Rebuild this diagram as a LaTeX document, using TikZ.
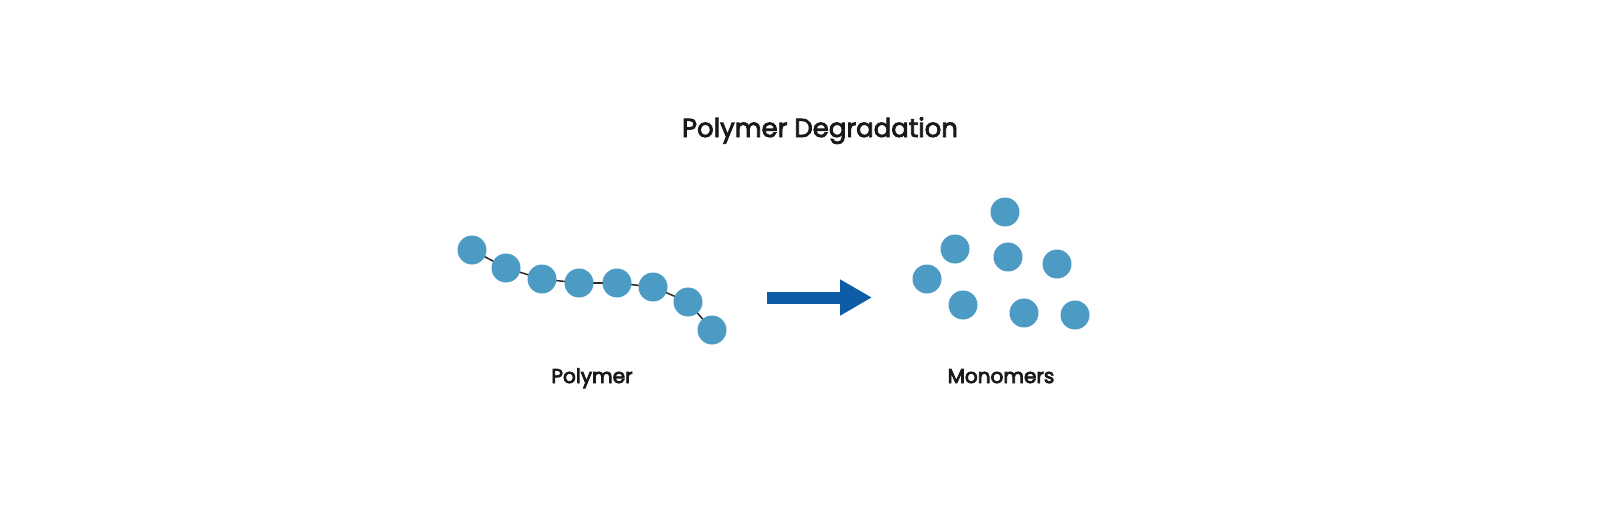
\documentclass[tikz,border=0pt]{standalone}
\usepackage{fontspec}
\setmainfont{Poppins}
\usepackage{tikz}
\usetikzlibrary{arrows.meta, positioning}
\definecolor{mybead}{RGB}{75,155,197}
\definecolor{myblue}{RGB}{14,92,166}
\definecolor{mydark}{RGB}{40,40,40}
% regular weight, outlined a little to get a medium stroke
\newcommand\medweight[1]{\special{pdf:literal direct 0.45 w 2 Tr}#1\special{pdf:literal direct 0 Tr}}
\tikzset{
  bead/.style={circle, fill=mybead, draw=none, minimum size=0.58cm, inner sep=0pt},
  bond/.style={line width=0.85pt, color=mydark},
  label/.style={font=\fontsize{11.4}{14}\selectfont, anchor=base, text=black!90},
  bigarrow/.style={line width=0.24cm, color=myblue,
    -{Triangle[length=0.64cm, width=0.68cm]}}
}

\begin{document}
\begin{tikzpicture}[x=0.02cm, y=-0.02cm]
  \useasboundingbox (0,0) rectangle (1600,521);

  % Title
  \node[font=\fontsize{14.8}{18}\selectfont, anchor=base, text=black!90] (title) at (820,137) {\medweight{Polymer Degradation}};

  % Polymer chain, bonds first so the beads sit on top
  \foreach \n/\x/\y in {1/472/250, 2/506/268, 3/542/279, 4/579/283,
                        5/617/283, 6/653/287, 7/688/302, 8/712/330}
    \coordinate (c\n) at (\x,\y);
  \foreach \a/\b in {1/2, 2/3, 3/4, 4/5, 5/6, 6/7, 7/8}
    \draw[bond] (c\a) -- (c\b);
  \foreach \n in {1,...,8}
    \node[bead] (p\n) at (c\n) {};
  \node[label] (poly_lbl) at (592,383) {\medweight{Polymer}};

  % Degradation arrow
  \coordinate (arr_start) at (767,297.5);
  \coordinate (arr_end) at (872,297.5);
  \draw[bigarrow] (arr_start) -- (arr_end);

  % Free monomers
  \node[bead] (m1) at (1005,212) {};
  \node[bead] (m2) at (955,249) {};
  \node[bead] (m3) at (1008,257) {};
  \node[bead] (m4) at (1057,264) {};
  \node[bead] (m5) at (927,279) {};
  \node[bead] (m6) at (963,305) {};
  \node[bead] (m7) at (1024,313) {};
  \node[bead] (m8) at (1075,315) {};
  \node[label] (mono_lbl) at (1001,383) {\medweight{Monomers}};
\end{tikzpicture}
\end{document}
